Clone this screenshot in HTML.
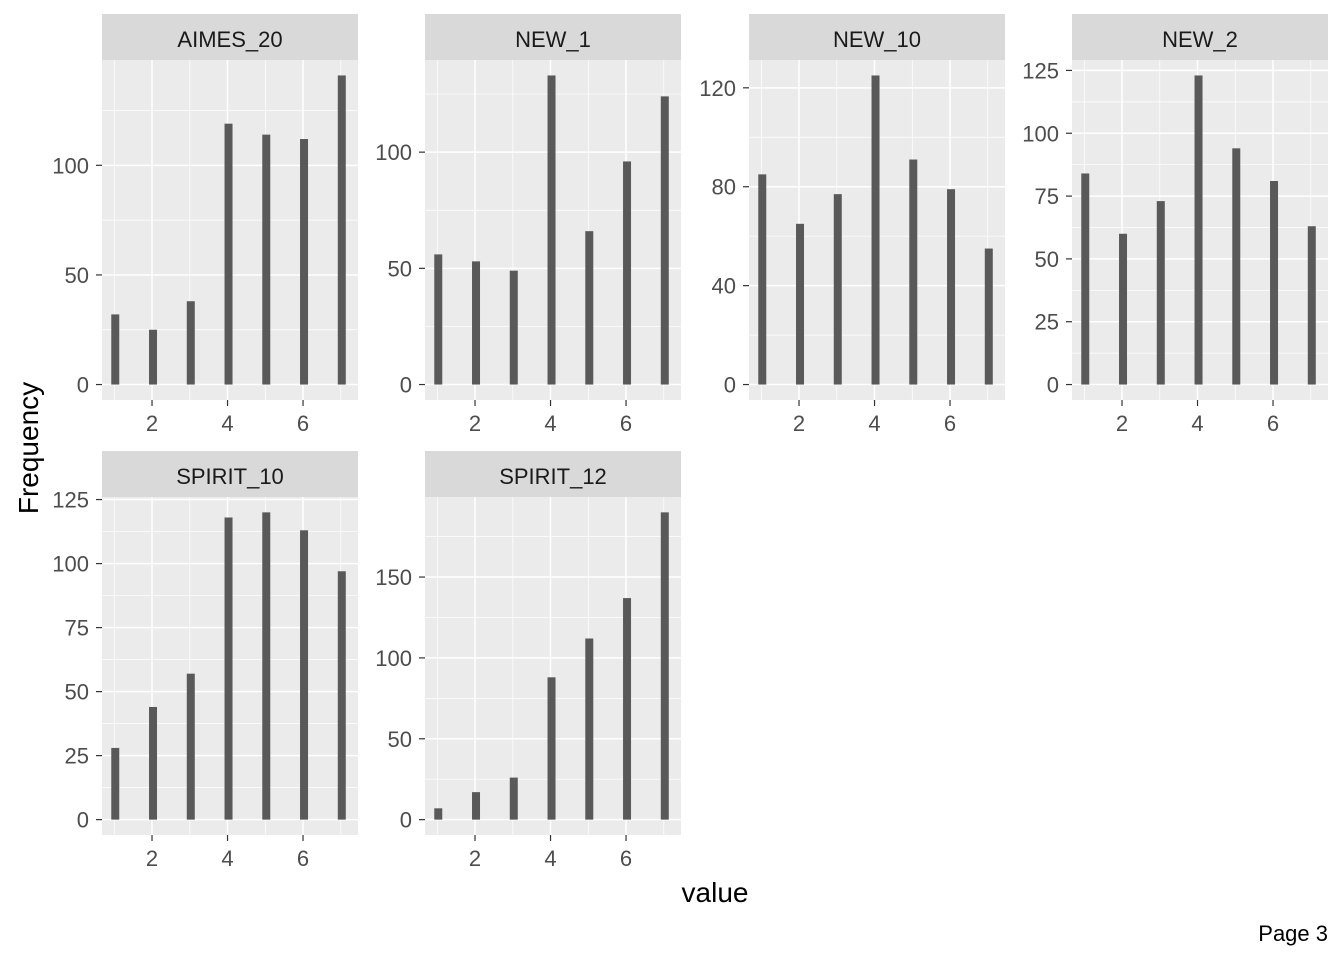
<!DOCTYPE html>
<html><head><meta charset="utf-8"><style>
body{margin:0;background:#fff;}
svg{display:block;font-family:"Liberation Sans",Arial,sans-serif;}
</style></head><body>
<svg id="chart" width="1344" height="960" viewBox="0 0 1344 960"></svg>
<script>
const facetNames = ["AIMES_20","NEW_1","NEW_10","NEW_2","SPIRIT_10","SPIRIT_12"];
const xValues = [1,2,3,4,5,6,7];
const xTicks = [2,4,6];
const countsAIMES20 = [32,25,38,119,114,112,141];
const countsNEW1 = [56,53,49,133,66,96,124];
const countsNEW10 = [85,65,77,125,91,79,55];
const countsNEW2 = [84,60,73,123,94,81,63];
const countsSPIRIT10 = [28,44,57,118,120,113,97];
const countsSPIRIT12 = [7,17,26,88,112,137,190];
const yTicksAIMES20 = [0,50,100];
const yTicksNEW1 = [0,50,100];
const yTicksNEW10 = [0,40,80,120];
const yTicksNEW2 = [0,25,50,75,100,125];
const yTicksSPIRIT10 = [0,25,50,75,100,125];
const yTicksSPIRIT12 = [0,50,100,150];

const allCounts=[countsAIMES20,countsNEW1,countsNEW10,countsNEW2,countsSPIRIT10,countsSPIRIT12];
const allTicks=[yTicksAIMES20,yTicksNEW1,yTicksNEW10,yTicksNEW2,yTicksSPIRIT10,yTicksSPIRIT12];
const svg=document.getElementById('chart');
const NS='http://www.w3.org/2000/svg';
function mk(t,a,p){const e=document.createElementNS(NS,t);for(const k in a)e.setAttribute(k,a[k]);(p||svg).appendChild(e);return e;}
const colX=[102,425,749,1072], pw=256;
const rows=[{st:14,pt:60,pb:400},{st:451,pt:497,pb:835}];
for(let i=0;i<6;i++){
  const c=i%4,r=Math.floor(i/4);
  const x0=colX[c],x1=x0+pw,R=rows[r];
  const g=mk('g',{});
  
  
  const counts=allCounts[i],ticks=allTicks[i];
  const mx=Math.max(...counts);
  const ymin=-0.05*mx,ymax=1.05*mx;
  const ys=v=>R.pb-(v-ymin)/(ymax-ymin)*(R.pb-R.pt);
  const xmin=0.675,xmax=7.456;
  const xs=v=>x0+(v-xmin)/(xmax-xmin)*pw;
  const bg=mk('rect',{x:x0,y:R.pt,width:pw,height:R.pb-R.pt,fill:'#EBEBEB'},g);
  
  const st=mk('rect',{x:x0,y:R.st,width:pw,height:R.pt-R.st,fill:'#D9D9D9'},g);
  
  const stt=mk('text',{x:x0+pw/2,y:R.st+33,'text-anchor':'middle','font-size':22,fill:'#1A1A1A'},g);
  stt.textContent=facetNames[i];
  
  for(let k=0;k<ticks.length;k++){const step=ticks[1]-ticks[0];const m=ticks[k]+step/2;if(ys(m)>R.pt)mk('line',{x1:x0,x2:x1,y1:ys(m),y2:ys(m),stroke:'#fff','stroke-width':0.7},g);}
  [1,3,5,7].forEach(v=>mk('line',{x1:xs(v),x2:xs(v),y1:R.pt,y2:R.pb,stroke:'#fff','stroke-width':0.7},g));
  ticks.forEach(t=>{const y=ys(t);mk('line',{x1:x0,x2:x1,y1:y,y2:y,stroke:'#fff','stroke-width':1.5},g);
    mk('line',{x1:x0-6,x2:x0,y1:y,y2:y,stroke:'#333','stroke-width':1.2},g);
    const tl=mk('text',{x:x0-13,y:y+8,'text-anchor':'end','font-size':22,fill:'#4D4D4D'},g);tl.textContent=t;
    });
  xTicks.forEach(t=>{const x=xs(t);mk('line',{x1:x,x2:x,y1:R.pt,y2:R.pb,stroke:'#fff','stroke-width':1.5},g);
    mk('line',{x1:x,x2:x,y1:R.pb,y2:R.pb+6,stroke:'#333','stroke-width':1.2},g);
    const tl=mk('text',{x:x,y:R.pb+31,'text-anchor':'middle','font-size':22,fill:'#4D4D4D'},g);tl.textContent=t;
    });
  xValues.forEach((v,k)=>{const b=mk('rect',{x:xs(v)-3,y:ys(counts[k]),width:8,height:ys(0)-ys(counts[k]),fill:'#595959'},g);
    });
}
const xt=mk('text',{x:715,y:902,'text-anchor':'middle','font-size':28,fill:'#000'});xt.textContent='value';

const yt=mk('text',{x:0,y:0,'text-anchor':'middle','font-size':28,fill:'#000',transform:'translate(38,448) rotate(-90)'});yt.textContent='Frequency';

const pg=mk('text',{x:1328,y:941,'text-anchor':'end','font-size':22,fill:'#000'});pg.textContent='Page 3';

</script>
</body></html>
